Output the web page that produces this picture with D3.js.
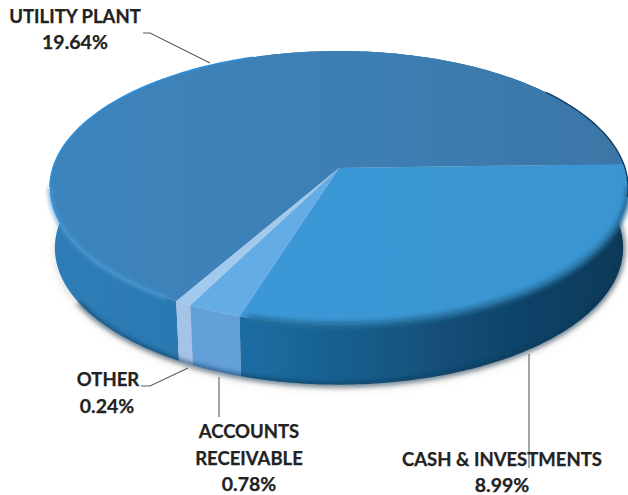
<!DOCTYPE html>
<html>
<head>
<meta charset="utf-8">
<script src="https://cdn.jsdelivr.net/npm/d3@7"></script>
<style>
  body { margin: 0; background: #fff; }
  text { font-family: Lato, "Open Sans", sans-serif; font-weight: 700; font-size: 18.5px; fill: #222; stroke: #222; stroke-width: 0.25; text-anchor: middle; }
  text.pct { font-size: 19.5px; }
  .leader { fill: none; stroke: #5a5a5a; stroke-width: 1.1; }
</style>
</head>
<body>
<script>
  // values printed next to each slice, clockwise from the right edge
  const categories = ["CASH & INVESTMENTS", "ACCOUNTS RECEIVABLE", "OTHER", "UTILITY PLANT"];
  const percents = [8.99, 0.78, 0.24, 19.64];

  const width = 628, height = 495;
  const cx = 339, cy = 189, radiusX = 286, radiusY = 137;
  const horizon = -0.145, centerLift = 21, depth = 60, bottomShrink = 0.983;

  let svg = d3.select("body").append("svg")
    .attr("width", width)
    .attr("height", height)
    .style("display", "block");

  let defs = svg.append("defs");
  function addBlur(id, amount) {
    defs.append("filter").attr("id", id).attr("x", "-10%").attr("y", "-10%").attr("width", "120%").attr("height", "130%")
      .append("feGaussianBlur").attr("stdDeviation", amount);
  }
  addBlur("soft", 0.7);
  addBlur("shadow", 4);
  addBlur("bevel", 2.2);

  function addGradient(id, stops) {
    let g = defs.append("linearGradient").attr("id", id)
      .attr("gradientUnits", "userSpaceOnUse")
      .attr("x1", 50).attr("x2", 628).attr("y1", 0).attr("y2", 0);
    stops.forEach((s) => g.append("stop").attr("offset", s[0]).attr("stop-color", s[1]));
  }
  addGradient("wallCash", [[0.3, "#1e6fa8"], [0.5, "#16608f"], [0.72, "#124a72"], [1, "#0d3857"]]);
  addGradient("wallPlant", [[0, "#2f7cb6"], [0.22, "#2b79b2"], [1, "#2b79b2"]]);
  addGradient("topCash", [[0.3, "#3b98d6"], [1, "#3a95d2"]]);
  addGradient("topPlant", [[0, "#3d84bc"], [0.5, "#3d7fb4"], [1, "#3a76a6"]]);

  const topFill = d3.scaleOrdinal().domain(categories)
    .range(["url(#topCash)", "#64ace5", "#a2c9ee", "url(#topPlant)"]);
  const wallFill = d3.scaleOrdinal().domain(categories)
    .range(["url(#wallCash)", "#639fd8", "#a5c3e6", "url(#wallPlant)"]);

  // circle angle -> picture position, with a little perspective so the centre sits above the middle
  function project(theta, level) {
    let d = 1 + horizon * Math.sin(theta);
    let shrink = level ? bottomShrink : 1;
    return [
      cx + radiusX * Math.cos(theta) / d * shrink,
      cy + (radiusY * Math.sin(theta) - centerLift) / d + level * depth
    ];
  }

  function rimAngles(d) {
    let a0 = d.startAngle - Math.PI / 2, a1 = d.endAngle - Math.PI / 2;
    let n = Math.max(4, Math.ceil((a1 - a0) * 60));
    return d3.range(n + 1).map((i) => a0 + (a1 - a0) * i / n);
  }

  function degrees(from, to) {
    return d3.range(from, to + 1, 2).map((t) => t * Math.PI / 180);
  }

  const line = d3.line();

  let slices = d3.pie().value((d) => d.value).sort(null)
    .startAngle(Math.PI / 2 - 1.7 * Math.PI / 180)
    .endAngle(Math.PI / 2 - 1.7 * Math.PI / 180 + 2 * Math.PI)(
      categories.map((c, i) => ({ name: c, value: percents[i] }))
    );

  // soft shadow under the disc
  svg.append("path")
    .attr("d", line(degrees(0, 360).map((t) => project(t, 1))) + "Z")
    .attr("transform", "translate(0, 4)")
    .attr("fill", "#c9c6c0")
    .attr("opacity", 0.6)
    .attr("filter", "url(#shadow)");

  let pie = svg.append("g").attr("filter", "url(#soft)");

  // side walls, back slice first so the front ones sit over it
  pie.selectAll(".wall")
    .data(slices.slice().reverse())
    .enter()
    .append("path")
    .attr("class", "wall")
    .attr("d", (d) => {
      let a = rimAngles(d);
      return line(a.map((t) => project(t, 0)).concat(a.slice().reverse().map((t) => project(t, 1)))) + "Z";
    })
    .attr("fill", (d) => wallFill(d.data.name));

  // darker line along the bottom of the wall
  pie.append("path")
    .attr("d", line(degrees(-5, 150).map((t) => project(t, 1))))
    .attr("fill", "none")
    .attr("stroke", "#0b3552")
    .attr("stroke-width", 5)
    .attr("opacity", 0.55)
    .attr("filter", "url(#bevel)");

  // top face of each slice
  pie.selectAll(".top")
    .data(slices)
    .enter()
    .append("path")
    .attr("class", "top")
    .attr("d", (d) => line([[cx, cy - centerLift]].concat(rimAngles(d).map((t) => project(t, 0)))) + "Z")
    .attr("fill", (d) => topFill(d.data.name));

  // soft fold between the cash top and its wall
  pie.append("path")
    .attr("d", line(degrees(8, 106).map((t) => project(t, 0))))
    .attr("fill", "none").attr("stroke", "#27709f").attr("stroke-width", 6)
    .attr("filter", "url(#bevel)");

  // brighter fold on the left of the wall
  pie.append("path")
    .attr("d", line(degrees(122, 172).map((t) => project(t, 0))))
    .attr("fill", "none").attr("stroke", "#4a9ada").attr("stroke-width", 3)
    .attr("filter", "url(#bevel)");

  // rim colour: light blue on the left, dark on the upper right
  pie.append("path")
    .attr("d", line(degrees(172, 250).map((t) => project(t, 0))))
    .attr("fill", "none").attr("stroke", "#2f8fdc").attr("stroke-width", 1.6);
  pie.append("path")
    .attr("d", line(degrees(-38, 12).map((t) => project(t, 0))))
    .attr("fill", "none").attr("stroke", "#123f63").attr("stroke-width", 1.4);

  // leader lines
  const leaderLine = d3.line();
  [
    [[143, 33], [150, 33], [210, 63]],
    [[141, 386], [150, 386], [188, 368]],
    [[219, 377], [219, 417]],
    [[529, 354], [529, 468]]
  ].forEach((pts) => svg.append("path").attr("class", "leader").attr("d", leaderLine(pts)));

  // labels, each line is its own text
  const fmt = (v) => d3.format(".2f")(v) + "%";
  const labelLines = [
    { x: 75, y: 23, text: "UTILITY PLANT" },
    { x: 75, y: 49, text: fmt(percents[3]), pct: true },
    { x: 108, y: 386, text: "OTHER" },
    { x: 107, y: 413, text: fmt(percents[2]), pct: true },
    { x: 249, y: 438, text: "ACCOUNTS" },
    { x: 249, y: 465, text: "RECEIVABLE" },
    { x: 249, y: 491, text: fmt(percents[1]), pct: true },
    { x: 502, y: 466, text: "CASH & INVESTMENTS" },
    { x: 502, y: 492, text: fmt(percents[0]), pct: true }
  ];
  svg.selectAll(".label")
    .data(labelLines)
    .enter()
    .append("text")
    .attr("class", (d) => d.pct ? "label pct" : "label")
    .attr("x", (d) => d.x)
    .attr("y", (d) => d.y)
    .text((d) => d.text);
</script>
</body>
</html>
